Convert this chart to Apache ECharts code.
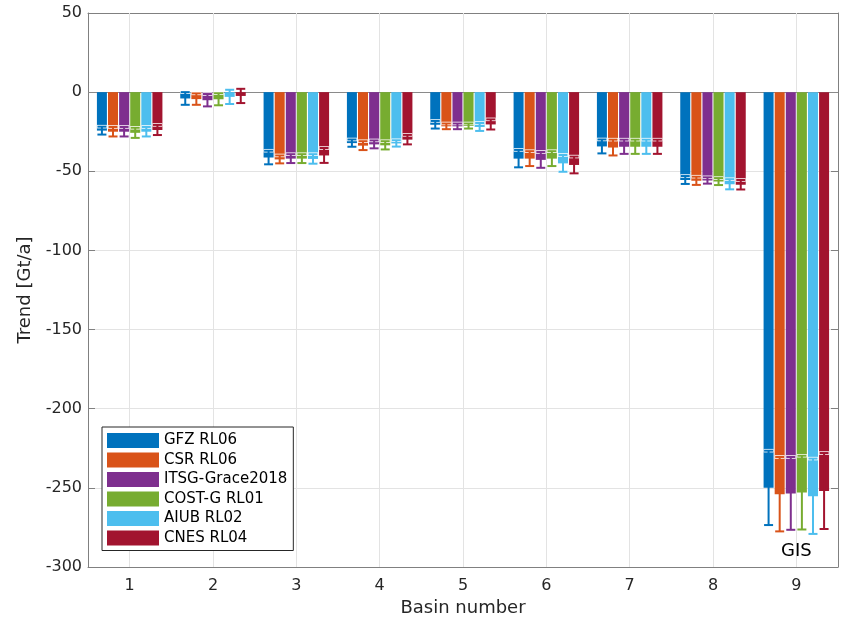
<!DOCTYPE html>
<html>
<head>
<meta charset="utf-8">
<script src="https://cdn.jsdelivr.net/npm/echarts@6/dist/echarts.min.js"></script>
<style>
  html, body { margin: 0; padding: 0; background: #fff; }
  #main { width: 843px; height: 617px; }
</style>
</head>
<body>
<div id="main"></div>
<script>
    // 流域编号（x轴类别）
    var basins = ['1', '2', '3', '4', '5', '6', '7', '8', '9'];

    // 各方案的趋势值 [Gt/a] 及误差
    var gfz      = [-24.3, -4.0, -41.3, -32.2, -20.6, -42.0, -34.3, -55.5, -250.0];
    var gfzErr   = [2.5, 4.0, 4.3, 2.3, 2.4, 5.5, 4.4, 2.5, 23.5];
    var csr      = [-25.0, -4.4, -42.5, -33.8, -21.6, -42.0, -35.0, -56.0, -254.0];
    var csrErr   = [3.0, 3.6, 2.5, 2.8, 1.8, 4.7, 5.0, 2.6, 23.5];
    var itsg     = [-25.0, -5.1, -42.0, -33.0, -21.6, -42.8, -34.5, -55.8, -253.5];
    var itsgErr  = [3.0, 3.9, 2.8, 2.5, 1.8, 5.0, 4.5, 2.0, 23.0];
    var costg    = [-25.7, -4.5, -42.0, -33.6, -21.4, -42.0, -34.5, -56.5, -253.0];
    var costgErr = [3.2, 3.8, 2.8, 2.6, 1.6, 4.7, 4.5, 2.2, 23.3];
    var aiub     = [-25.0, -3.0, -42.2, -32.4, -22.0, -45.0, -34.5, -58.2, -255.3];
    var aiubErr  = [3.0, 4.5, 3.0, 2.0, 2.5, 5.3, 4.5, 3.2, 23.8];
    var cnes     = [-23.9, -2.4, -40.0, -30.0, -20.4, -46.0, -34.5, -58.5, -252.0];
    var cnesErr  = [3.2, 4.5, 4.7, 3.0, 3.2, 5.3, 4.5, 3.0, 24.0];

    var names  = ['GFZ RL06', 'CSR RL06', 'ITSG-Grace2018', 'COST-G RL01', 'AIUB RL02', 'CNES RL04'];
    var values = [gfz, csr, itsg, costg, aiub, cnes];
    var errs   = [gfzErr, csrErr, itsgErr, costgErr, aiubErr, cnesErr];
    var colors = ['#0072BD', '#D95319', '#7E2F8E', '#77AC30', '#4DBEEE', '#A2142F'];

    // y轴范围
    var yMin = -300, yMax = 50, yStep = 50;
    // 注释文字
    var noteText = 'GIS', noteAt = ['9', -290];

    var barW = 10, barGapPct = 11;
    var pitch = barW * (1 + barGapPct / 100);

    var myChart = echarts.init(document.getElementById('main'));

    var txt = '#262626';
    var font = 'DejaVu Sans';

    var series = [];

    // 背景竖向网格线 + 零线 + GIS 标注
    series.push({
        type: 'line',
        name: 'grid',
        data: [],
        z: 1,
        silent: true,
        markLine: {
            silent: true,
            z: 1,
            symbol: 'none',
            label: { show: false },
            animation: false,
            data: basins.map(function (b) {
                return { xAxis: b, lineStyle: { color: '#e3e3e3', width: 1, type: 'solid' } };
            }).concat([{ yAxis: 0, lineStyle: { color: '#8a8a8a', width: 1, type: 'solid' } }])
        },
        markPoint: {
            symbol: 'rect',
            symbolSize: 1,
            itemStyle: { color: 'rgba(0,0,0,0)' },
            label: {
                show: true, position: 'inside', formatter: noteText,
                color: '#000', fontSize: 18, fontFamily: font
            },
            data: [{ coord: noteAt }]
        }
    });

    names.forEach(function (n, s) {
        series.push({
            type: 'bar',
            name: n,
            data: values[s],
            barWidth: barW,
            barGap: barGapPct + '%',
            z: 2,
            itemStyle: { color: colors[s] },
            animation: false
        });
    });

    // 误差棒
    names.forEach(function (n, s) {
        series.push({
            type: 'custom',
            name: 'err' + s,
            z: 3,
            silent: true,
            animation: false,
            data: values[s].map(function (v, i) { return [i, v, errs[s][i]]; }),
            renderItem: function (params, api) {
                var i = api.value(0), v = api.value(1), e = api.value(2);
                var off = (s - 2.5) * pitch;
                var hi = api.coord([i, v + e]);
                var lo = api.coord([i, v - e]);
                var x = hi[0] + off;
                var cw = 4.5;
                var c = colors[s];
                function ln(x1, y1, x2, y2, w, col) {
                    return { type: 'line', shape: { x1: x1, y1: y1, x2: x2, y2: y2 },
                             style: { stroke: col, lineWidth: w } };
                }
                return {
                    type: 'group',
                    children: [
                        ln(x - cw - 0.5, hi[1], x + cw + 0.5, hi[1], 3.5, '#fff'),
                        ln(x - cw - 0.5, lo[1], x + cw + 0.5, lo[1], 3.5, '#fff'),
                        ln(x, hi[1], x, lo[1], 2, c),
                        ln(x - cw, hi[1], x + cw, hi[1], 2, c),
                        ln(x - cw, lo[1], x + cw, lo[1], 2, c)
                    ]
                };
            }
        });
    });

    var option = {
        backgroundColor: '#fff',
        animation: false,
        grid: { left: 88, right: 5, top: 13, bottom: 50, containLabel: false, outerBoundsMode: 'none' },
        legend: {
            data: names,
            orient: 'vertical',
            left: 102,
            top: 427,
            itemWidth: 52,
            itemHeight: 15,
            itemGap: 4.5,
            icon: 'rect',
            padding: [6, 6, 5, 5],
            backgroundColor: '#fff',
            borderColor: '#262626',
            borderWidth: 1,
            textStyle: { color: '#000', fontSize: 15, fontFamily: font }
        },
        xAxis: [{
            type: 'category',
            data: basins,
            name: 'Basin number',
            nameLocation: 'middle',
            nameGap: 32,
            nameTextStyle: { color: txt, fontSize: 18, fontFamily: font },
            axisLine: { onZero: false, lineStyle: { color: '#808080', width: 1 } },
            axisTick: { alignWithLabel: true, inside: true, length: 7, lineStyle: { color: '#808080' } },
            axisLabel: { color: txt, fontSize: 16, fontFamily: font, margin: 11 },
            splitLine: { show: false }
        }, {
            type: 'category',
            data: basins,
            position: 'top',
            axisLine: { onZero: false, lineStyle: { color: '#808080', width: 1 } },
            axisTick: { alignWithLabel: true, inside: true, length: 7, lineStyle: { color: '#808080' } },
            axisLabel: { show: false },
            splitLine: { show: false }
        }],
        yAxis: [{
            type: 'value',
            min: yMin,
            max: yMax,
            interval: yStep,
            name: 'Trend [Gt/a]',
            nameLocation: 'middle',
            nameGap: 50,
            nameTextStyle: { color: txt, fontSize: 18, fontFamily: font },
            axisLine: { show: true, lineStyle: { color: '#808080', width: 1 } },
            axisTick: { show: true, inside: true, length: 7, lineStyle: { color: '#808080' } },
            axisLabel: { color: txt, fontSize: 16, fontFamily: font, margin: 6 },
            splitLine: { show: true, lineStyle: { color: '#e3e3e3', width: 1 } }
        }, {
            type: 'value',
            min: yMin,
            max: yMax,
            interval: yStep,
            position: 'right',
            axisLine: { show: true, lineStyle: { color: '#808080', width: 1 } },
            axisTick: { show: true, inside: true, length: 7, lineStyle: { color: '#808080' } },
            axisLabel: { show: false },
            splitLine: { show: false }
        }],
        series: series
    };

    myChart.setOption(option);
</script>
</body>
</html>
